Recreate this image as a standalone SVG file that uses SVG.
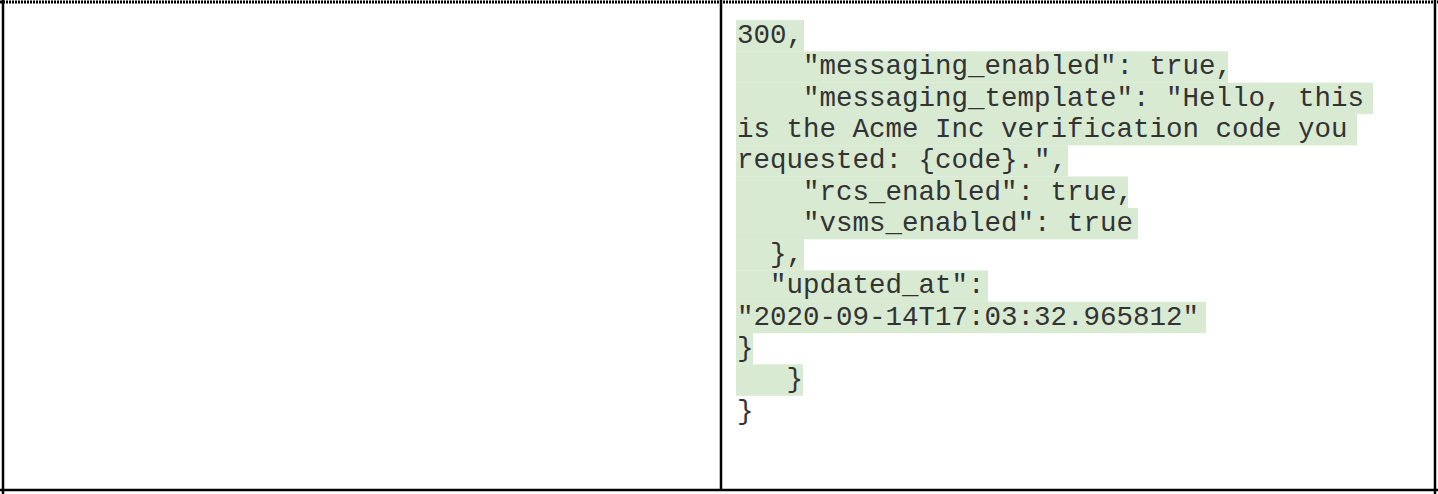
<svg xmlns="http://www.w3.org/2000/svg" width="1438" height="494" viewBox="0 0 1438 494">
<style>
.c{font-family:"Liberation Mono","Courier New",monospace;font-size:27.5px;fill:#333;white-space:pre}
.h{fill:#d9ead3}
.b{stroke:#000;stroke-width:2.5;fill:none}
</style>
<rect width="1438" height="494" fill="#fff"/>
<g id="table">
<line x1="0" y1="2" x2="1438" y2="2" stroke="#000" stroke-width="3" stroke-dasharray="2,1"/>
<line class="b" x1="3" y1="0" x2="3" y2="494"/>
<line class="b" x1="721" y1="0" x2="721" y2="490"/>
<line class="b" x1="1435" y1="0" x2="1435" y2="494"/>
<line class="b" x1="0" y1="490" x2="1438" y2="490"/>
</g>
<g id="highlights">
<rect class="h" x="736" y="20" width="68" height="31.5"/>
<rect class="h" x="736" y="51.3" width="492" height="31.5"/>
<rect class="h" x="736" y="82.6" width="637" height="31.5"/>
<rect class="h" x="736" y="113.9" width="621" height="31.5"/>
<rect class="h" x="736" y="145.2" width="332" height="31.5"/>
<rect class="h" x="736" y="176.5" width="392" height="31.5"/>
<rect class="h" x="736" y="207.8" width="402" height="31.5"/>
<rect class="h" x="736" y="239.1" width="68" height="31.5"/>
<rect class="h" x="736" y="270.4" width="252" height="31.5"/>
<rect class="h" x="736" y="301.7" width="470" height="31.5"/>
<rect class="h" x="736" y="333" width="17" height="31.5"/>
<rect class="h" x="736" y="364.3" width="67" height="31.5"/>
</g>
<g id="code">
<text class="c" x="737" y="43">300,</text>
<text class="c" x="737" y="74.3">    "messaging_enabled": true,</text>
<text class="c" x="737" y="105.6">    "messaging_template": "Hello, this</text>
<text class="c" x="737" y="136.9">is the Acme Inc verification code you</text>
<text class="c" x="737" y="168.2">requested: {code}.",</text>
<text class="c" x="737" y="199.5">    "rcs_enabled": true,</text>
<text class="c" x="737" y="230.8">    "vsms_enabled": true</text>
<text class="c" x="737" y="262.1">  },</text>
<text class="c" x="737" y="293.4">  "updated_at":</text>
<text class="c" x="737" y="324.7">"2020-09-14T17:03:32.965812"</text>
<text class="c" x="737" y="356">}</text>
<text class="c" x="737" y="387.3">   }</text>
<text class="c" x="737" y="418.6">}</text>
</g>
</svg>
